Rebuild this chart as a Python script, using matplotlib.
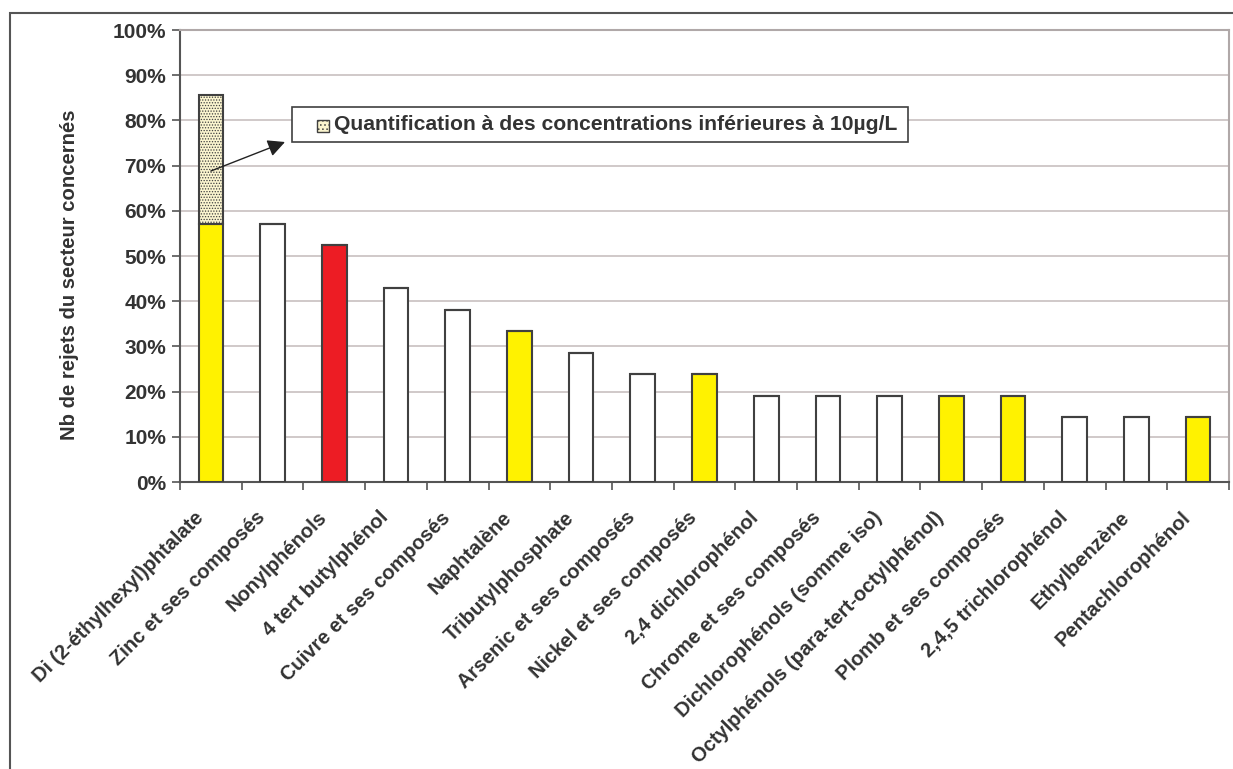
import matplotlib
matplotlib.use("Agg")
import matplotlib.pyplot as plt
from matplotlib.patches import Rectangle
from matplotlib.transforms import ScaledTranslation

plt.rcParams['font.family'] = ['Liberation Sans', 'DejaVu Sans']
plt.rcParams['hatch.color'] = '#9a9070'
plt.rcParams['hatch.linewidth'] = 0.6

categories = [
    "Di (2-éthylhexyl)phtalate", "Zinc et ses composés", "Nonylphénols",
    "4 tert butylphénol", "Cuivre et ses composés", "Naphtalène",
    "Tributylphosphate", "Arsenic et ses composés", "Nickel et ses composés",
    "2,4 dichlorophénol", "Chrome et ses composés", "Dichlorophénols (somme iso)",
    "Octylphénols (para-tert-octylphénol)", "Plomb et ses composés",
    "2,4,5 trichlorophénol", "Ethylbenzène", "Pentachlorophénol",
]
# share of discharges (%) above the quantification threshold
values = [57.1, 57.1, 52.4, 42.9, 38.1, 33.3, 28.6, 23.8, 23.8,
          19.0, 19.0, 19.0, 19.0, 19.0, 14.3, 14.3, 14.3]
# extra share quantified at concentrations below 10 µg/L
below_10 = [28.6] + [0] * 16
colors = ["#fff200", "white", "#ed1c24", "white", "white", "#fff200",
          "white", "white", "#fff200", "white", "white", "white",
          "#fff200", "#fff200", "white", "white", "#fff200"]
y_ticks = [0, 10, 20, 30, 40, 50, 60, 70, 80, 90, 100]
legend_text = "Quantification à des concentrations inférieures à 10µg/L"
y_label = "Nb de rejets du secteur concernés"

W, H = 1233, 769
fig = plt.figure(figsize=(W / 100, H / 100), dpi=100)
fig.patch.set_facecolor("white")

# outer frame
fig.add_artist(Rectangle((10 / W, -0.05), 1.2, (H - 13) / H + 0.05,
                         transform=fig.transFigure, fill=False,
                         edgecolor="#555555", linewidth=1.5))

ax = fig.add_axes([180 / W, 1 - 482 / H, (1229 - 180) / W, (482 - 30) / H])
txt = "#333333"
edge = "#404040"
fs = 15

x = range(len(categories))
ax.bar(x, values, width=0.4, color=colors, edgecolor=edge, linewidth=1.5, zorder=3)
ax.bar(x, below_10, width=0.4, bottom=values, color="#fbf5cf", edgecolor=edge,
       linewidth=1.5, hatch="......", zorder=3)

ax.set_xlim(-0.5, len(categories) - 0.5)
ax.set_ylim(0, 100)
ax.set_yticks(y_ticks)
ax.set_yticklabels([f"{t}%" for t in y_ticks])
ax.yaxis.grid(True, color="#c8c0c0", linewidth=1.2, zorder=0)
ax.set_axisbelow(True)

ax.set_xticks([i + 0.5 for i in range(-1, len(categories))], minor=False)
ax.set_xticklabels([])
ax.set_xticks(list(x), minor=True)
ax.set_xticklabels(categories, minor=True, rotation=45, ha="right", va="top",
                   rotation_mode="anchor", fontsize=14.5, fontweight="bold",
                   color=txt)
ax.tick_params(axis="x", which="minor", length=0, pad=0)
shift = ScaledTranslation(-17 / 100, -26 / 100, fig.dpi_scale_trans)
for lab in ax.get_xticklabels(minor=True):
    lab.set_transform(lab.get_transform() + shift)
ax.tick_params(axis="x", which="major", length=6, width=1.2, color="#555555",
               direction="out")
ax.tick_params(axis="y", length=6, width=1.2, color="#555555", direction="out",
               labelsize=fs, labelcolor=txt, pad=4)
for lab in ax.get_yticklabels():
    lab.set_fontweight("bold")

for s in ["top", "right"]:
    ax.spines[s].set_color("#b0a8a8")
    ax.spines[s].set_linewidth(1.5)
for s in ["left", "bottom"]:
    ax.spines[s].set_color("#555555")
    ax.spines[s].set_linewidth(1.5)

ax.set_ylabel(y_label, fontsize=14.6, fontweight="bold", color=txt)
ax.yaxis.set_label_coords(-101 / (1229 - 180), 0.458)

# legend-like annotation box
fig.add_artist(Rectangle((292 / W, 1 - 142 / H), (908 - 292) / W, 35 / H,
                         transform=fig.transFigure, facecolor="white",
                         edgecolor="#404040", linewidth=1.2, zorder=5))
fig.add_artist(Rectangle((317 / W, 1 - 132 / H), 12 / W, 12 / H,
                         transform=fig.transFigure, facecolor="#fbf5cf",
                         edgecolor="#404040", linewidth=1.0, hatch="....",
                         zorder=6))
fig.text(334 / W, 1 - 125 / H, legend_text, fontsize=15.2, fontweight="bold",
         color=txt, va="center", ha="left", zorder=7)

ax.annotate("", xy=(285 / W, 1 - 142 / H), xycoords="figure fraction",
            xytext=(0, 68.8), textcoords="data",
            arrowprops=dict(arrowstyle="-|>", color="#222222", lw=1.0,
                            mutation_scale=26, shrinkA=0, shrinkB=0),
            annotation_clip=False, zorder=8)

fig.savefig("out.png", dpi=100, facecolor="white")
